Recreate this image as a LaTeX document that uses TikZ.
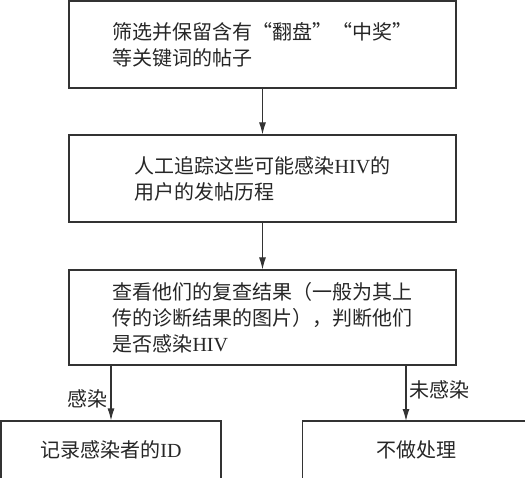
\documentclass[tikz,border=0pt]{standalone}
\usepackage{fontspec}
\setmainfont{Liberation Serif}
\newfontfamily\cjk{Noto Sans CJK SC}
\usetikzlibrary{arrows.meta}
\newcommand{\lat}[1]{{\rmfamily #1}}

\begin{document}
\begin{tikzpicture}[x=1pt, y=-1pt, draw=black!80, line width=1.1pt]
    \tikzstyle{stepbox}=[draw, rectangle, inner sep=0pt, align=left,
        font=\cjk\fontsize{20}{26}\selectfont, text=black!85]
    \tikzstyle{flow}=[-{Latex[length=12pt,width=7pt]}]
    \tikzstyle{annot}=[font=\cjk\fontsize{20}{26}\selectfont, text=black!85]

    \useasboundingbox (0,0) rectangle (525,478);

    % the three steps
    \node [stepbox, minimum width=387, minimum height=87] (step-1) at (262.5,44.5)
    {筛选并保留含有“翻盘”“中奖”\\等关键词的帖子};
    \node [stepbox, minimum width=387, minimum height=87] (step-2) at (262.5,178.5)
    {人工追踪这些可能感染\lat{HIV}的\\用户的发帖历程};
    \node [stepbox, minimum width=387, minimum height=95] (step-3) at (262.5,317.5)
    {查看他们的复查结果（一般为其上\\传的诊断结果的图片），判断他们\\是否感染\lat{HIV}};

    % the two outcomes
    \node [stepbox, minimum width=220, minimum height=58] (result-yes) at (111,450)
    {记录感染者的\lat{ID}};
    \node [stepbox, minimum width=227, minimum height=58] (result-no) at (416,450)
    {不做处理};
    \coordinate (result-no-in) at (406,421);

    % Draw the steps one after another
    \foreach \i/\j in {1/2, 2/3}
    \draw [flow] (step-\i) -- (step-\j);

    \draw [flow] (step-3.south -| result-yes.north) -- (result-yes.north)
    node [left, pos=0.6, annot]{感染};
    \draw [flow] (step-3.south -| result-no-in) -- (result-no-in)
    node [right, pos=0.43, annot]{未感染};

\end{tikzpicture}
\end{document}
